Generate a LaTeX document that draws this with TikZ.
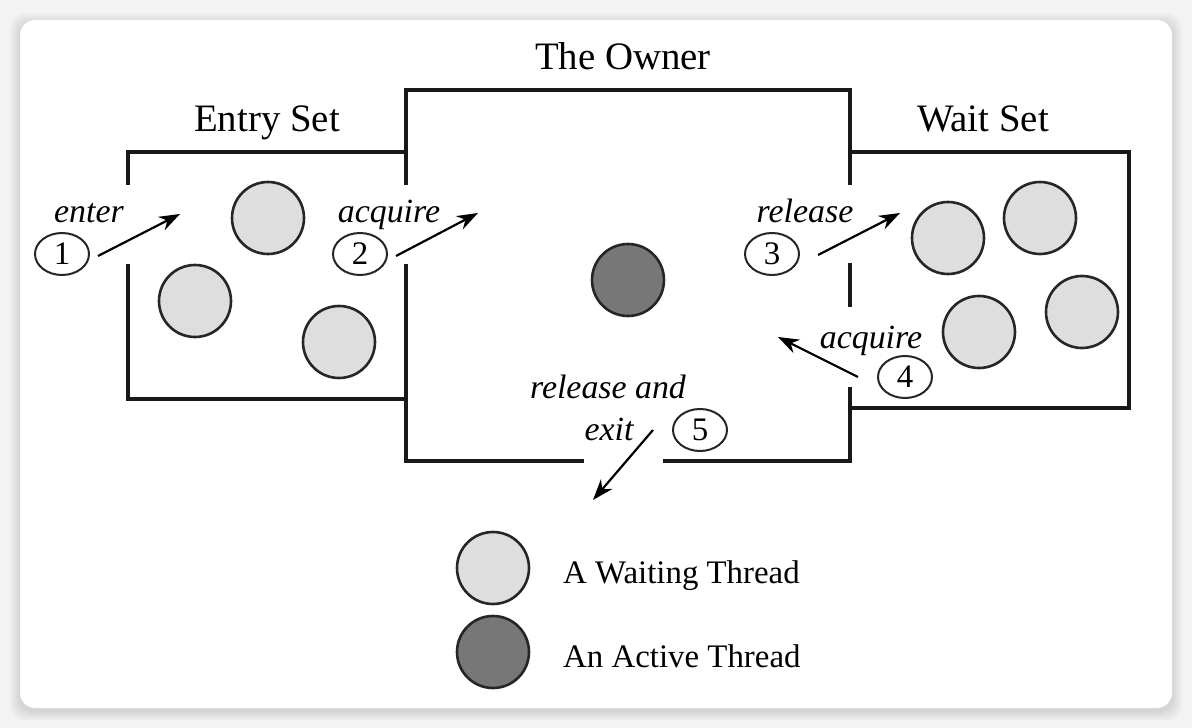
\documentclass[tikz,border=0pt]{standalone}
\usepackage{fontspec}
\setmainfont{Liberation Serif}
\usetikzlibrary{shapes.geometric,arrows.meta}
\definecolor{bgout}{HTML}{F3F3F3}
\definecolor{waitfill}{HTML}{DEDEDE}
\definecolor{activefill}{HTML}{777777}
\tikzset{
  wall/.style={line width=3.2bp, line cap=rect, draw=black!90},
  waiting/.style={circle, draw=black!85, line width=2.6bp, fill=waitfill, minimum size=72bp, inner sep=0pt},
  activeth/.style={circle, draw=black!85, line width=2.6bp, fill=activefill, minimum size=72bp, inner sep=0pt},
  num/.style={ellipse, draw=black!85, line width=2bp, minimum width=54bp, minimum height=42bp, inner sep=0pt, font=\fontsize{33}{33}\selectfont},
  lbl/.style={anchor=base, inner sep=0pt, font=\itshape\fontsize{34}{34}\selectfont},
  title/.style={anchor=base, inner sep=0pt, font=\fontsize{39}{39}\selectfont},
  legtext/.style={anchor=base west, inner sep=0pt, font=\fontsize{33}{33}\selectfont},
  arr/.style={-{Stealth[length=21bp,width=15bp]}, line width=2.2bp}
}
\begin{document}
\begin{tikzpicture}[x=1bp,y=-1bp]
% background and card
\fill[bgout] (0,0) rectangle (1192,728);
\useasboundingbox (0,0) rectangle (1192,728);
\foreach \i in {1,...,10}{
  \fill[black, opacity=0.012, rounded corners=15bp] (20-\i,20-\i+3) rectangle (1172+\i,708+\i+3);
}
\fill[white, rounded corners=15bp] (20,20) rectangle (1172,708);

% Entry set walls
\draw[wall] (128,183) -- (128,152) -- (406,152);
\draw[wall] (128,266) -- (128,399) -- (406,399);
% Owner walls
\draw[wall] (406,183) -- (406,90) -- (850,90) -- (850,183);
\draw[wall] (406,266) -- (406,461) -- (582,461);
\draw[wall] (665,461) -- (850,461) -- (850,389);
\draw[wall] (850,265) -- (850,305);
% Wait set walls
\draw[wall] (850,152) -- (1129,152) -- (1129,408) -- (850,408);

% titles
\node[title] (towner) at (623,70) {The Owner};
\node[title] (tentry) at (267,132) {Entry Set};
\node[title] (twait) at (983,132) {Wait Set};

% waiting threads in entry set
\node[waiting] (e1) at (268,218) {};
\node[waiting] (e2) at (195,301) {};
\node[waiting] (e3) at (339,342) {};
% waiting threads in wait set
\node[waiting] (w1) at (948,238) {};
\node[waiting] (w2) at (1040,218) {};
\node[waiting] (w3) at (979,332) {};
\node[waiting] (w4) at (1082,312) {};
% owner
\node[activeth] (own) at (628,280) {};

% step labels
\node[lbl] (l1) at (89,223) {enter};
\node[lbl] (l2) at (389,223) {acquire};
\node[lbl] (l3) at (805,223) {release};
\node[lbl] (l4) at (871,348) {acquire};
\node[lbl] (l5a) at (608,398) {release and};
\node[lbl] (l5b) at (609,440) {exit};

% numbered ellipses
\node[num] (n1) at (62,254) {1};
\node[num] (n2) at (360,254) {2};
\node[num] (n3) at (772,254) {3};
\node[num] (n4) at (905,377) {4};
\node[num] (n5) at (700,430) {5};

% arrows
\coordinate (a1s) at (98,256); \coordinate (a1e) at (180,214);
\coordinate (a2s) at (396,256); \coordinate (a2e) at (478,213);
\coordinate (a3s) at (818,255); \coordinate (a3e) at (900,213);
\coordinate (a4s) at (858,377); \coordinate (a4e) at (778,337);
\coordinate (a5s) at (653,430); \coordinate (a5e) at (593,500);
\draw[arr] (a1s) -- (a1e);
\draw[arr] (a2s) -- (a2e);
\draw[arr] (a3s) -- (a3e);
\draw[arr] (a4s) -- (a4e);
\draw[arr] (a5s) -- (a5e);

% legend
\node[waiting] (lw) at (493,568) {};
\node[activeth] (la) at (493,652) {};
\node[legtext] (tw) at (563,583) {A Waiting Thread};
\node[legtext] (ta) at (563,667) {An Active Thread};
\end{tikzpicture}
\end{document}
